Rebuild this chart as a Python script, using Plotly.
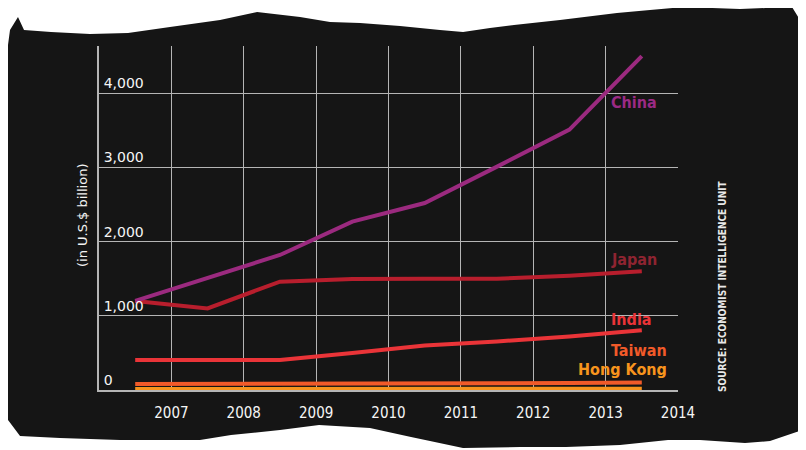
import plotly.graph_objects as go

# ---- data ----
periods = [2006.5, 2007.5, 2008.5, 2009.5, 2010.5, 2011.5, 2012.5, 2013.5]
china = [1200, 1510, 1820, 2270, 2520, 3010, 3510, 4500]
japan = [1200, 1100, 1460, 1495, 1500, 1500, 1540, 1600]
india = [405, 405, 405, 500, 600, 655, 720, 805]
taiwan = [80, 80, 80, 85, 88, 90, 95, 100]
hong_kong = [14, 14, 14, 15, 15, 16, 16, 17]
tick_years = [2007, 2008, 2009, 2010, 2011, 2012, 2013, 2014]
y_ticks = [0, 1000, 2000, 3000, 4000]

series = [
    ("China", china, "#9b2a7f", "#9b2a85"),
    ("Japan", japan, "#b81e2d", "#8f2431"),
    ("India", india, "#ea3438", "#ea3438"),
    ("Taiwan", taiwan, "#f15a29", "#f15a29"),
    ("Hong Kong", hong_kong, "#f7941d", "#f7941d"),
]

OFF = 8  # default page body margin
W, H = 806 - OFF, 450 - OFF
L, R, T, B = 99, 678, 46, 390  # plot area in screen px

def px(x):
    return (x - L) / (R - L)

def py(y):
    return (B - y) / (B - T)

fig = go.Figure()
for name, vals, col, _ in series[::-1]:
    fig.add_trace(go.Scatter(x=periods, y=vals, mode="lines", name=name,
                             line=dict(color=col, width=4), hoverinfo="x+y+name"))

label_font = "DejaVu Sans Condensed, Liberation Sans Narrow, Roboto, sans-serif"
label_pos = {"China": (634, 103), "Japan": (634, 259), "India": (631, 319),
             "Taiwan": (639, 350), "Hong Kong": (622, 369)}
for name, vals, col, tcol in series:
    lx, ly = label_pos[name]
    fig.add_annotation(x=px(lx), y=py(ly), xref="paper", yref="paper", text="<b>%s</b>" % name,
                       showarrow=False, font=dict(family=label_font, size=16, color=tcol),
                       xanchor="center", yanchor="middle")

# torn black paper background
pts = [(6, 60), (10, 30), (18, 17), (24, 30), (51, 32), (90, 34), (128, 33), (170, 27),
       (220, 20), (257, 12), (300, 17), (330, 22), (360, 23), (400, 26), (440, 30),
       (463, 32), (490, 28), (514, 25), (560, 20), (617, 13), (650, 10), (684, 7),
       (740, 9), (792, 7), (800, 20), (802, 120), (806, 300), (804, 420), (802, 430),
       (770, 441), (745, 443), (700, 440), (668, 440), (620, 445), (566, 447),
       (520, 447), (463, 448), (430, 441), (411, 437), (370, 428), (319, 425),
       (280, 430), (231, 435), (200, 440), (120, 440), (60, 438), (20, 436),
       (8, 420), (4, 300), (5, 150)]
path = "M " + " L ".join("%.4f,%.4f" % (px(x), py(y)) for x, y in pts) + " Z"
fig.add_shape(type="path", path=path, xref="paper", yref="paper", layer="below",
              fillcolor="#151515", line=dict(width=0))

fig.add_annotation(x=px(82), y=py(216), xref="paper", yref="paper", text="(in U.S.$ billion)",
                   textangle=-90, showarrow=False, xanchor="center", yanchor="middle",
                   font=dict(family="DejaVu Sans, sans-serif", size=13, color="#f2f2f2"))
fig.add_annotation(x=px(722), y=py(286), xref="paper", yref="paper",
                   text="<b>SOURCE: ECONOMIST INTELLIGENCE UNIT</b>",
                   textangle=-90, showarrow=False, xanchor="center", yanchor="middle",
                   font=dict(family=label_font, size=10, color="#e8e8e8"))

fig.update_layout(
    width=W, height=H,
    margin=dict(l=L - OFF, r=W - (R - OFF), t=T - OFF, b=H - (B - OFF), pad=0),
    paper_bgcolor="white", plot_bgcolor="rgba(0,0,0,0)",
    showlegend=False,
    xaxis=dict(range=[2006, 2014], tickvals=tick_years, ticktext=[str(y) for y in tick_years],
               showgrid=True, gridcolor="#b5b5b5", gridwidth=1.2, zeroline=False,
               showline=True, linecolor="#b5b5b5", linewidth=1.5, mirror=False,
               ticks="outside", ticklen=8, tickcolor="rgba(0,0,0,0)",
               tickfont=dict(family=label_font, size=15, color="#f5f5f5"),
               tickprefix="<b>", ticksuffix="</b>",
               fixedrange=True),
    yaxis=dict(range=[0, 4636], tickvals=y_ticks, tickformat=",",
               showgrid=True, gridcolor="#b5b5b5", gridwidth=1.2, zeroline=False,
               showline=True, linecolor="#b5b5b5", linewidth=1.5,
               ticklabelposition="inside top", ticks="", ticklabelstandoff=4,
               tickfont=dict(family="DejaVu Sans, sans-serif", size=14, color="#f5f5f5"),
               fixedrange=True),
)

fig.write_html("out.html")
